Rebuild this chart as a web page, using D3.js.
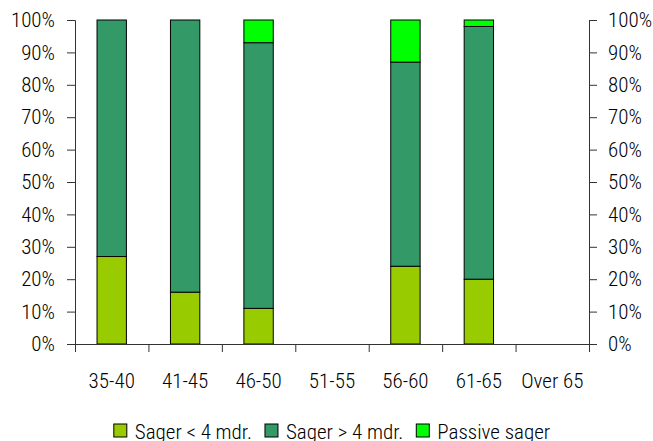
<!DOCTYPE html>
<html>
<head>
<meta charset="utf-8">
<script src="https://cdn.jsdelivr.net/npm/d3@7"></script>
<style>
  body { margin: 0; background: #fff; }
  text { font-family: Roboto, "DejaVu Sans", sans-serif; font-stretch: condensed; font-weight: 300; fill: #000; }
  .axis path, .axis line { stroke: #333; }
</style>
</head>
<body>
<div id="chart"></div>
<script>
// Data (shares in %)
let categories = ["35-40", "41-45", "46-50", "51-55", "56-60", "61-65", "Over 65"];
let seriesNames = ["Sager < 4 mdr.", "Sager > 4 mdr.", "Passive sager"];
let smallCases = [27, 16, 11, 0, 24, 20, 0];
let largeCases = [73, 84, 82, 0, 63, 78, 0];
let passiveCases = [0, 0, 7, 0, 13, 2, 0];
let yTicks = [0, 10, 20, 30, 40, 50, 60, 70, 80, 90, 100];

let colors = ["#99cc00", "#339966", "#00ff00"];

let svgWidth = 653, svgHeight = 441;
let margin = {top: 20, right: 64, bottom: 97, left: 75};
let width = svgWidth - margin.left - margin.right;
let height = svgHeight - margin.top - margin.bottom;
let fontSize = "21px";

let svg = d3.select("#chart").append("svg")
  .attr("width", svgWidth)
  .attr("height", svgHeight);

let chartGroup = svg.append("g")
  .attr("transform", `translate(${margin.left}, ${margin.top})`);

// build rows for stacking
let rows = categories.map((c, i) => ({
  cat: c, s0: smallCases[i], s1: largeCases[i], s2: passiveCases[i]
}));
let stack = d3.stack().keys(["s0", "s1", "s2"]);
let series = stack(rows);

let xBand = d3.scaleBand().domain(categories).range([0, width]).paddingInner(0.6).paddingOuter(0.3);
let xLabels = d3.scaleBand().domain(categories).range([0, width]);
let xEdges = d3.scaleLinear().domain([0, categories.length]).range([0, width]);
let yScale = d3.scaleLinear().domain([0, 100]).range([height, 0]);

// bars
chartGroup.selectAll("g.layer")
  .data(series)
  .enter().append("g")
  .attr("class", "layer")
  .attr("fill", (d, i) => colors[i])
  .selectAll("rect")
  .data(d => d.filter(p => p[1] - p[0] > 0))
  .enter().append("rect")
  .attr("x", d => xBand(d.data.cat))
  .attr("y", d => yScale(d[1]))
  .attr("width", xBand.bandwidth())
  .attr("height", d => yScale(d[0]) - yScale(d[1]))
  .attr("stroke", "#000")
  .attr("stroke-width", 1);

// axes
let leftAxis = d3.axisLeft(yScale).tickValues(yTicks).tickFormat(d => d + "%")
  .tickSize(8).tickPadding(12);
let rightAxis = d3.axisRight(yScale).tickValues(yTicks).tickFormat(d => d + "%")
  .tickSize(8).tickPadding(11);

chartGroup.append("g").attr("class", "axis").call(leftAxis)
  .selectAll("text").style("font-size", fontSize);
chartGroup.append("g").attr("class", "axis")
  .attr("transform", `translate(${width}, 0)`)
  .call(rightAxis)
  .selectAll("text").style("font-size", fontSize);

chartGroup.append("g").attr("class", "axis")
  .attr("transform", `translate(0, ${height})`)
  .call(d3.axisBottom(xEdges).tickValues(d3.range(categories.length + 1)).tickFormat("").tickSize(8).tickSizeOuter(8));

let xLab = chartGroup.append("g").attr("class", "axis")
  .attr("transform", `translate(0, ${height})`)
  .call(d3.axisBottom(xLabels).tickSize(0).tickPadding(29));
xLab.select(".domain").remove();
xLab.selectAll("text").style("font-size", fontSize);

// legend
let legend = svg.append("g").attr("class", "legend");
let items = legend.selectAll("g").data(seriesNames).enter().append("g");
items.append("rect")
  .attr("width", 13).attr("height", 13)
  .attr("y", -13)
  .attr("fill", (d, i) => colors[i])
  .attr("stroke", "#000");
items.append("text")
  .attr("x", 21).attr("y", 2)
  .style("font-size", fontSize)
  .text(d => d);

let pos = 0;
items.each(function() {
  let w = this.querySelector("text").getComputedTextLength() + 21;
  d3.select(this).attr("transform", `translate(${pos}, 0)`);
  pos += w + 13;
});
let total = pos - 13;
legend.attr("transform", `translate(${margin.left + width / 2 - total / 2}, 437)`);
</script>
</body>
</html>
